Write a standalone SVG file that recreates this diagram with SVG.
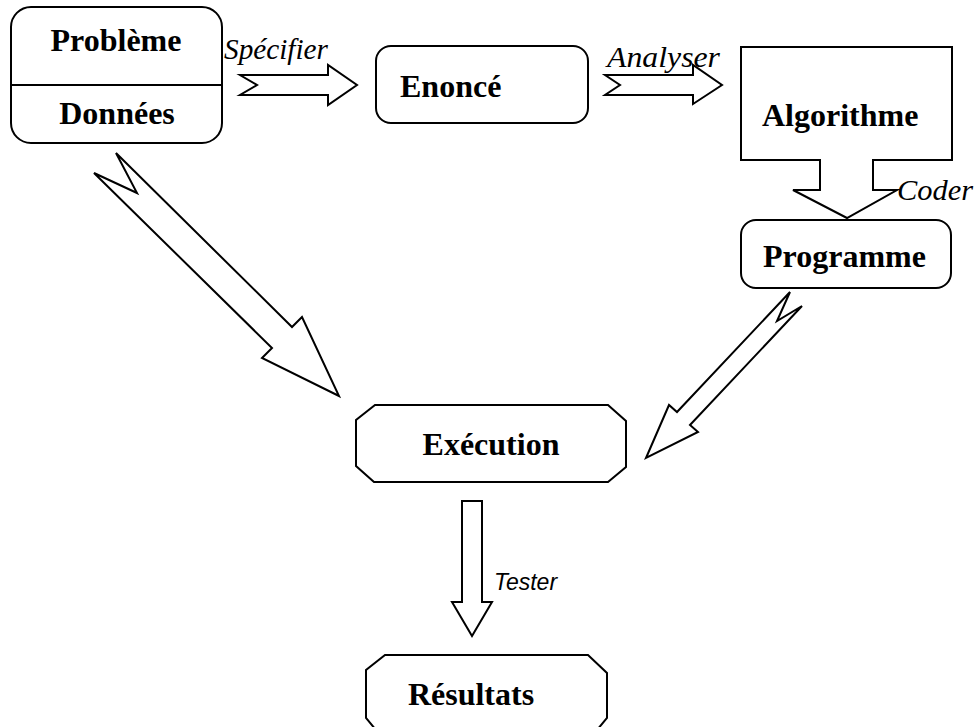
<svg xmlns="http://www.w3.org/2000/svg" width="976" height="727" viewBox="0 0 976 727">
<style>
.s{fill:#fff;stroke:#000;stroke-width:2;stroke-linejoin:miter}
.b{font-family:"Liberation Serif","Times New Roman",serif;font-weight:bold;font-size:32px;fill:#000}
.i{font-family:"Liberation Serif","Times New Roman",serif;font-style:italic;font-size:29px;fill:#000}
.t{font-family:"Liberation Sans",Arial,sans-serif;font-style:italic;font-size:23px;fill:#000}
</style>
<rect width="976" height="727" fill="#fff"/>
<g id="connectors">
<polygon class="s" points="240,75 328,75 328,65 357,85 328,105 328,95 240,95 257,85"/>
<polygon class="s" points="605,75 693,75 693,65 722,85 693,104 693,95 605,95 620,85"/>
<polygon class="s" points="116,153 292,327 302,317 339,396 262,358 272,348 94,173 137,193"/>
<polygon class="s" points="790,292 777,321 802,306 690,425 698,432 646,458 669,405 677,412"/>
<polygon class="s" points="462,501 482,501 482,602 492,602 472,636 452,602 462,602"/>
</g>
<g id="probleme">
<rect class="s" x="11" y="7" width="211" height="136" rx="20"/>
<line x1="11" y1="85" x2="222" y2="85" stroke="#000" stroke-width="2"/>
<text class="b" x="116" y="51" text-anchor="middle">Problème</text>
<text class="b" x="117" y="124" text-anchor="middle">Données</text>
</g>
<g id="enonce">
<rect class="s" x="376" y="46" width="212" height="77" rx="15"/>
<text class="b" x="400" y="97">Enoncé</text>
</g>
<g id="algorithme">
<polygon class="s" points="741,47 952,47 952,160 873,160 873,190 897,190 847,218 793,190 820,190 820,160 741,160"/>
<text class="b" x="762" y="126">Algorithme</text>
</g>
<g id="programme">
<rect class="s" x="741" y="220" width="210" height="68" rx="15"/>
<text class="b" x="763" y="267">Programme</text>
</g>
<g id="execution">
<polygon class="s" points="375,405 608,405 626,421 626,467 608,482 374,482 356,466 356,420"/>
<text class="b" x="491" y="455" text-anchor="middle">Exécution</text>
</g>
<g id="resultats">
<polygon class="s" points="385,655 588,655 607,673 607,718 597,730 376,730 366,718 366,670"/>
<text class="b" x="471" y="705" text-anchor="middle">Résultats</text>
</g>
<g id="labels">
<text class="i" x="224" y="59" textLength="104" lengthAdjust="spacingAndGlyphs">Spécifier</text>
<text class="i" x="607" y="67" textLength="113" lengthAdjust="spacingAndGlyphs">Analyser</text>
<text class="i" x="897" y="200" textLength="76" lengthAdjust="spacingAndGlyphs">Coder</text>
<text class="t" x="494" y="590">Tester</text>
</g>
</svg>
